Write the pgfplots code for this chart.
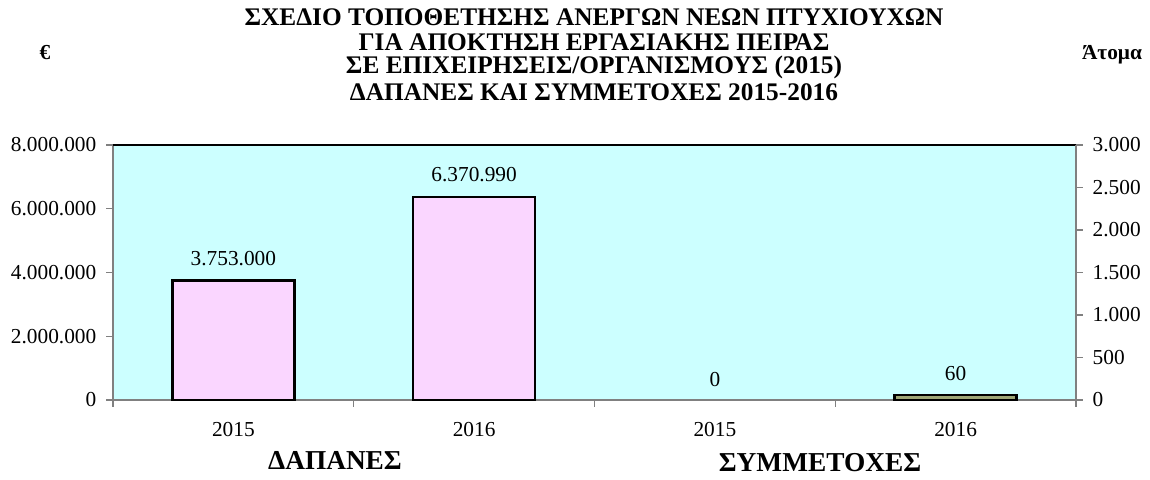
\documentclass[border=0pt]{standalone}
\usepackage{fontspec}
\setmainfont{Liberation Serif}
\usepackage{pgfplots}
\pgfplotsset{compat=1.18}
\definecolor{plotbg}{RGB}{204,255,255}
\definecolor{barpink}{RGB}{250,214,255}
\definecolor{bargreen}{RGB}{158,166,118}
\definecolor{axisgray}{RGB}{128,128,128}

\begin{document}
\begin{tikzpicture}
\path[use as bounding box] (-84.75pt,-59.25pt) rectangle (777.75pt,300pt);

% left axis: expenses (EUR)
\begin{axis}[
  at={(0,0)}, anchor=south west,
  scale only axis, width=722.25pt, height=191.25pt,
  xmin=-0.5, xmax=3.5, ymin=0, ymax=8000000,
  scaled y ticks=false,
  axis background/.style={fill=plotbg},
  axis line style={axisgray, line width=1pt},
  tick align=outside, major tick length=5pt,
  tick style={axisgray, line width=0.8pt},
  ytick={0,2000000,4000000,6000000,8000000},
  yticklabels={0,2.000.000,4.000.000,6.000.000,8.000.000},
  ytick pos=left,
  xtick={-0.5,0.5,1.5,2.5,3.5},
  x tick label as interval,
  xticklabels={2015,2016,2015,2016},
  xtick pos=bottom,
  ticklabel style={font=\fontsize{16}{19}\selectfont, black},
  yticklabel style={xshift=-4pt},
  xticklabel style={yshift=-8pt},
  clip=false,
]
\addplot[ybar, bar shift=0pt, bar width=91.5pt, fill=barpink, draw=black, line width=2pt,
  nodes near coords, point meta=explicit symbolic,
  nodes near coords style={font=\fontsize{16}{19}\selectfont, black, anchor=south, inner sep=0pt, yshift=10pt}]
  coordinates {(0,3753000)[3.753.000] (1,6370990)[6.370.990]};
\draw[black, line width=1.5pt] (rel axis cs:0,1) -- (rel axis cs:1,1);
\end{axis}

% right axis: participants
\begin{axis}[
  at={(0,0)}, anchor=south west,
  scale only axis, width=722.25pt, height=191.25pt,
  xmin=-0.5, xmax=3.5, ymin=0, ymax=3000,
  axis x line=none, axis y line*=right,
  axis line style={axisgray, line width=1pt},
  tick align=outside, major tick length=5pt,
  tick style={axisgray, line width=0.8pt},
  ytick={0,500,1000,1500,2000,2500,3000},
  yticklabels={0,500,1.000,1.500,2.000,2.500,3.000},
  ticklabel style={font=\fontsize{16}{19}\selectfont, black},
  yticklabel style={xshift=4pt},
  clip=false,
]
\addplot[ybar, bar shift=0pt, bar width=91.5pt, fill=none, draw=none,
  nodes near coords, point meta=explicit symbolic,
  nodes near coords style={font=\fontsize{16}{19}\selectfont, black, anchor=south, inner sep=0pt, yshift=10pt}]
  coordinates {(2,0)[0]};
\addplot[ybar, bar shift=0pt, bar width=91.5pt, fill=bargreen, draw=black, line width=2pt,
  nodes near coords, point meta=explicit symbolic,
  nodes near coords style={font=\fontsize{16}{19}\selectfont, black, anchor=south, inner sep=0pt, yshift=10pt}]
  coordinates {(3,60)[60]};
\end{axis}

\begin{scope}[every node/.style={font=\bfseries\fontsize{19}{22}\selectfont}]
\node at (360.75pt,287.25pt) {ΣΧΕΔΙΟ ΤΟΠΟΘΕΤΗΣΗΣ ΑΝΕΡΓΩΝ ΝΕΩΝ ΠΤΥΧΙΟΥΧΩΝ};
\node at (360.75pt,268.5pt) {ΓΙΑ ΑΠΟΚΤΗΣΗ ΕΡΓΑΣΙΑΚΗΣ ΠΕΙΡΑΣ};
\node at (360.75pt,249.75pt) {ΣΕ ΕΠΙΧΕΙΡΗΣΕΙΣ/ΟΡΓΑΝΙΣΜΟΥΣ (2015)};
\node at (360.75pt,231pt) {ΔΑΠΑΝΕΣ ΚΑΙ ΣΥΜΜΕΤΟΧΕΣ 2015-2016};
\node[font=\bfseries\fontsize{16}{19}\selectfont] at (-51pt,260.25pt) {€};
\node[font=\bfseries\fontsize{16}{19}\selectfont] at (749.25pt,258.75pt) {Άτομα};
\node[font=\bfseries\fontsize{20.5}{24}\selectfont] at (166.5pt,-45pt) {ΔΑΠΑΝΕΣ};
\node[font=\bfseries\fontsize{20.5}{24}\selectfont] at (530.25pt,-47.25pt) {ΣΥΜΜΕΤΟΧΕΣ};
\end{scope}
\end{tikzpicture}
\end{document}
